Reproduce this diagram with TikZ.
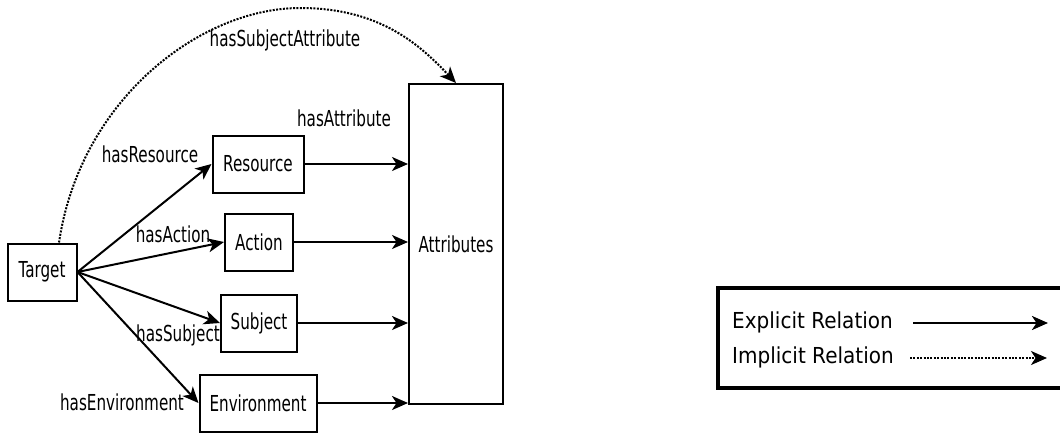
\documentclass[tikz,border=0pt]{standalone}
\usepackage{fontspec}
\newfontfamily\diafont{DejaVu Sans}[FakeStretch=0.69]
\newfontfamily\legfont{DejaVu Sans}[FakeStretch=0.91]
\usetikzlibrary{arrows.meta,positioning,calc}

\begin{document}
\begin{tikzpicture}[x=1pt, y=-1pt,
  box/.style={draw, line width=2pt, inner sep=0pt, minimum height=57pt,
              font=\diafont\fontsize{22}{26}\selectfont},
  lbl/.style={inner sep=0pt, font=\diafont\fontsize{22}{26}\selectfont},
  leg/.style={inner sep=0pt, anchor=west, font=\legfont\fontsize{22}{26}\selectfont},
  rel/.style={line width=2pt, -{Stealth[length=16pt,width=14pt,inset=4.5pt]}},
  imp/.style={rel, dash pattern=on 2pt off 1.4pt}]

        \clip (0,0) rectangle (1060,434);

        %% ── boxes ─────────────────────────────────────
        \node[box, minimum width=69pt] (tgt) at (42,272) {Target};
        \node[box, minimum width=91pt] (res) at (258,164) {Resource};
        \node[box, minimum width=68pt] (act) at (259,242) {Action};
        \node[box, minimum width=76pt] (sub) at (259,323) {Subject};
        \node[box, minimum width=117pt] (env) at (258,403) {Environment};
        \node[box, minimum width=94pt, minimum height=320pt]
          (attr) at (456,244) {Attributes};

        %% ── relation labels ───────────────────────────
        \node[lbl] (lsubattr) at (285,40) {hasSubjectAttribute};
        \node[lbl] (lattr) at (344,118) {hasAttribute};
        \node[lbl] (lres) at (150,154) {hasResource};
        \node[lbl] (lact) at (173,234) {hasAction};
        \node[lbl] (lsub) at (178,335) {hasSubject};
        \node[lbl] (lenv) at (122,402) {hasEnvironment};

        %% ── explicit relations ────────────────────────
        \foreach \b in {res,act,sub,env}{
          \draw[rel] (tgt.east) -- (\b.west);
          \draw[rel] (\b.east) -- (\b.east -| attr.west);
        }

        %% ── implicit relation (over the top) ──────────
        \coordinate (peak) at (300,8);
        \draw[imp] (tgt.60)
          .. controls (80,100) and (200,8) .. (peak)
          .. controls (380,8) and (420,45) .. (attr.north);

        %% ── legend ────────────────────────────────────
        \draw[line width=3.2pt] (718,288) rectangle (1080,388);
        \node[leg] (lexp) at (732,322) {Explicit Relation};
        \node[leg] (limp) at (732,357) {Implicit Relation};
        \coordinate (exa) at (913,323);
        \coordinate (exb) at (1048,323);
        \coordinate (ima) at (910,358);
        \coordinate (imb) at (1047,358);
        \draw[rel, line width=2.6pt] (exa) -- (exb);
        \draw[imp] (ima) -- (imb);

\end{tikzpicture}
\end{document}
